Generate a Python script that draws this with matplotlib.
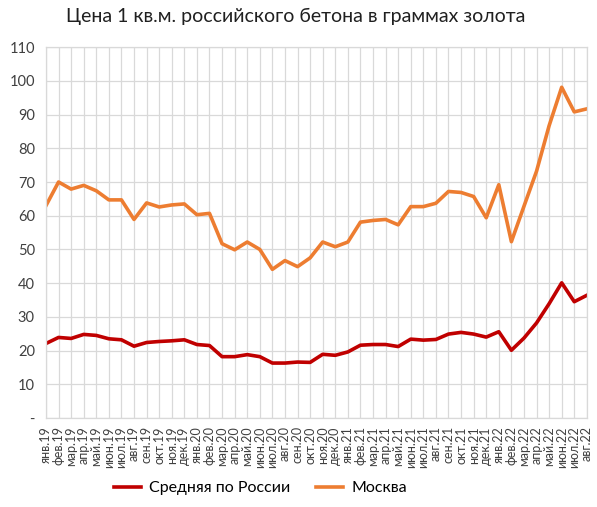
import numpy as np
import matplotlib.pyplot as plt

#
# Данные
#
mesyacy = ['янв', 'фев', 'мар', 'апр', 'май', 'июн',
           'июл', 'авг', 'сен', 'окт', 'ноя', 'дек']
podpisi = [m + '.' + g for g in ['19', '20', '21'] for m in mesyacy] + \
          [m + '.22' for m in mesyacy[:8]]

rossiya = [22.1, 23.9, 23.6, 24.8, 24.5, 23.5, 23.2, 21.3, 22.4, 22.7, 22.9, 23.2,
           21.8, 21.5, 18.2, 18.2, 18.8, 18.2, 16.3, 16.3, 16.6, 16.5, 18.9, 18.6,
           19.6, 21.6, 21.8, 21.8, 21.2, 23.4, 23.1, 23.3, 24.9, 25.4, 24.9, 24.0,
           25.6, 20.1, 23.7, 28.2, 33.9, 40.1, 34.5, 36.4]

moskva = [63.0, 70.0, 67.9, 69.0, 67.4, 64.7, 64.7, 58.9, 63.8, 62.6, 63.2, 63.5,
          60.3, 60.7, 51.7, 49.9, 52.2, 50.0, 44.1, 46.7, 44.9, 47.5, 52.2, 50.8,
          52.2, 58.1, 58.6, 58.9, 57.3, 62.7, 62.7, 63.7, 67.2, 66.9, 65.7, 59.4,
          69.2, 52.3, 62.8, 73.2, 86.7, 98.1, 90.8, 91.7]

y_metki = list(range(0, 111, 10))
y_podpisi = ['-'] + [str(v) for v in y_metki[1:]]

#
# График
#
plt.rcParams['font.family'] = ['Lato', 'DejaVu Sans']

fig = plt.figure(figsize=(5.97, 5.07), dpi=100)
ax = fig.add_axes([0.077, 0.1755, 0.906, 0.7315])

x = np.arange(len(podpisi))
ax.plot(x, rossiya, color='#C00000', lw=2.6, label='Средняя по России', solid_joinstyle='round')
ax.plot(x, moskva, color='#ED7D31', lw=2.6, label='Москва', solid_joinstyle='round')

ax.set_xlim(0, len(podpisi) - 1)
ax.set_ylim(0, 110)
ax.set_xticks(x)
ax.set_xticklabels(podpisi, rotation=90, fontsize=9, color='#404040')
ax.set_yticks(y_metki)
ax.set_yticklabels(y_podpisi, fontsize=10.5, color='#404040')

ax.grid(True, color='#D9D9D9', lw=0.9)
ax.set_axisbelow(True)
ax.tick_params(length=0, pad=8)
ax.tick_params(axis='x', pad=6)
for s in ax.spines.values():
    s.set_color('#D9D9D9')
    s.set_linewidth(0.9)

fig.suptitle('Цена 1 кв.м. российского бетона в граммах золота',
             fontsize=14, x=0.495, y=0.985, color='#202020')

fig.legend(loc='center', bbox_to_anchor=(0.436, 0.037), ncol=2,
           frameon=False, fontsize=11.5, handlelength=1.7, columnspacing=1.6,
           handletextpad=0.5)

fig.savefig('out.png', dpi=100)
